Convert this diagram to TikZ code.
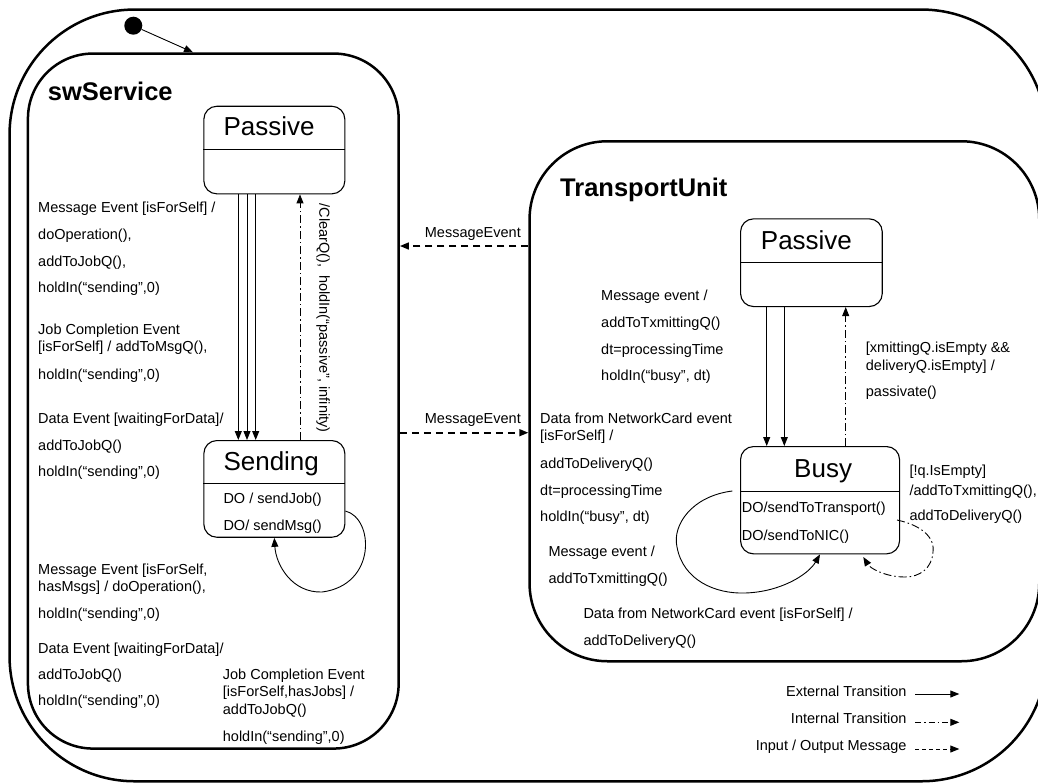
\documentclass[tikz,border=0pt]{standalone}
\usepackage{fontspec}
\setmainfont{Liberation Sans}
\usetikzlibrary{arrows.meta,calc}
\begin{document}
\begin{tikzpicture}[x=1pt,y=-1pt,
  lbl/.style={anchor=base west, inner sep=0pt, font=\fontsize{14.5}{17}\selectfont},
  lblr/.style={anchor=base east, inner sep=0pt, font=\fontsize{14.5}{17}\selectfont},
  sname/.style={anchor=base west, inner sep=0pt, font=\fontsize{26}{30}\selectfont},
  title/.style={anchor=base west, inner sep=0pt, font=\fontsize{25.5}{30}\selectfont\bfseries},
  container/.style={draw, line width=2.5pt, rounded corners=#1, inner sep=0pt, anchor=north west},
  statebox/.style={draw, line width=1.1pt, rounded corners=13pt, inner sep=0pt, anchor=north west},
  tip/.style={-{Triangle[length=9pt,width=7pt]}},
  ext/.style={tip, line width=0.9pt},
  int/.style={tip, line width=0.9pt, dash pattern=on 8pt off 3pt on 1.5pt off 3pt},
  msg/.style={tip, line width=1.6pt, dash pattern=on 7pt off 5pt},
]
\useasboundingbox (0,0) rectangle (1038,782);
\clip (0,0) rectangle (1038,782);

% ---------- containers ----------
\node[container=125pt, minimum width=1037pt, minimum height=771.7pt] (outer) at (8.3,8.3) {};
\node[container=65pt, minimum width=370.7pt, minimum height=695pt] (sw) at (26.7,52.3) {};
\node[container=78pt, minimum width=509.7pt, minimum height=520pt] (tu) at (528.3,140) {};

\node[title] (swT) at (47.7,100) {swService};
\node[title] (tuT) at (560,196.7) {TransportUnit};

% ---------- initial state ----------
\node[circle, fill, minimum size=18pt, inner sep=0pt] (init) at (133.3,25.7) {};
\coordinate (initX) at (193,0);
\draw[ext] (init) -- (sw.north -| initX);

% ---------- swService states ----------
\node[statebox, minimum width=141pt, minimum height=87.6pt] (swP) at (203.3,105.7) {};
\draw[line width=1.1pt] ($(swP.north west)+(0,43.6)$) -- ($(swP.north east)+(0,43.6)$);
\node[sname] (swPn) at (223.3,135.7) {Passive};

\node[statebox, minimum width=141pt, minimum height=96.7pt] (swS) at (203.3,440) {};
\draw[line width=1.1pt] ($(swS.north west)+(0,43.3)$) -- ($(swS.north east)+(0,43.3)$);
\node[sname] (swSn) at (223.3,470.7) {Sending};
\node[lbl] (swS1) at (223.3,503.3) {DO / sendJob()};
\node[lbl] (swS2) at (223.3,530.7) {DO/ sendMsg()};

% transitions Passive -> Sending
\coordinate (a1) at (238.3,0);
\coordinate (a2) at (247,0);
\coordinate (a3) at (255.7,0);
\coordinate (ad) at (300,0);
\draw[ext] (swP.south -| a1) -- (swS.north -| a1);
\draw[ext] (swP.south -| a2) -- (swS.north -| a2);
\draw[ext] (swP.south -| a3) -- (swS.north -| a3);
\draw[int] (swS.north -| ad) -- (swP.south -| ad);
\node[lbl, anchor=center, rotate=-90] (clr) at (323,318) {/ClearQ(),\ \ holdIn(“passive”, infinity)};

% self loop on Sending
\coordinate (sl1) at (0,511);
\coordinate (sl2) at (274.3,0);
\draw[ext] (swS.east |- sl1) .. controls (374,518) and (377,585) .. (322,592)
  .. controls (292,593) and (276,565) .. (swS.south -| sl2);

% swService labels
\node[lbl] (l1) at (38,212) {Message Event [isForSelf] /};
\node[lbl] (l2) at (38,239) {doOperation(),};
\node[lbl] (l3) at (38,266) {addToJobQ(),};
\node[lbl] (l4) at (38,292.7) {holdIn(“sending”,0)};
\node[lbl] (l5) at (38,334) {Job Completion Event};
\node[lbl] (l6) at (38,351.7) {[isForSelf] / addToMsgQ(),};
\node[lbl] (l7) at (38,379.3) {holdIn(“sending”,0)};
\node[lbl] (l8) at (38,423.3) {Data Event [waitingForData]/};
\node[lbl] (l9) at (38,450) {addToJobQ()};
\node[lbl] (l10) at (38,476) {holdIn(“sending”,0)};

\node[lbl] (m1) at (38,574) {Message Event [isForSelf,};
\node[lbl] (m2) at (38,591.7) {hasMsgs] / doOperation(),};
\node[lbl] (m3) at (38,618.3) {holdIn(“sending”,0)};
\node[lbl] (m4) at (38,653.3) {Data Event [waitingForData]/};
\node[lbl] (m5) at (38,679.3) {addToJobQ()};
\node[lbl] (m6) at (38,705.7) {holdIn(“sending”,0)};
\node[lbl] (j1) at (222.7,679.3) {Job Completion Event};
\node[lbl] (j2) at (222.7,696.7) {[isForSelf,hasJobs] /};
\node[lbl] (j3) at (222.7,714.3) {addToJobQ()};
\node[lbl] (j4) at (222.7,741) {holdIn(“sending”,0)};

% ---------- messages between components ----------
\coordinate (me1) at (0,246);
\coordinate (me2) at (0,432.7);
\draw[msg] (tu.west |- me1) -- (sw.east |- me1);
\draw[msg] (sw.east |- me2) -- (tu.west |- me2);
\node[lblr] (me1l) at (521,237.7) {MessageEvent};
\node[lblr] (me2l) at (521,423.3) {MessageEvent};

% ---------- TransportUnit states ----------
\node[statebox, minimum width=141.7pt, minimum height=87.7pt] (tuP) at (740,218.3) {};
\draw[line width=1.1pt] ($(tuP.north west)+(0,44)$) -- ($(tuP.north east)+(0,44)$);
\node[sname] (tuPn) at (760.7,249.3) {Passive};

\node[statebox, minimum width=159pt, minimum height=107.3pt] (tuB) at (740,446) {};
\draw[line width=1.1pt] ($(tuB.north west)+(0,45.7)$) -- ($(tuB.north east)+(0,45.7)$);
\node[sname] (tuBn) at (794,477.3) {Busy};
\node[lbl] (tuB1) at (741.7,512.7) {DO/sendToTransport()};
\node[lbl] (tuB2) at (741.7,540) {DO/sendToNIC()};

\coordinate (b1) at (766.7,0);
\coordinate (b2) at (784.3,0);
\coordinate (bd) at (845.7,0);
\draw[ext] (tuP.south -| b1) -- (tuB.north -| b1);
\draw[ext] (tuP.south -| b2) -- (tuB.north -| b2);
\draw[int] (tuB.north -| bd) -- (tuP.south -| bd);

% self loops on Busy
\coordinate (bl0) at (732.3,491);
\coordinate (bl1) at (820,0);
\draw[ext] (bl0) .. controls (692,496) and (672,525) .. (677,547)
  .. controls (683,580) and (715,594) .. (745,593)
  .. controls (780,592) and (808,575) .. (tuB.south -| bl1);
\coordinate (bi0) at (897,520);
\coordinate (bi1) at (863.3,557);
\draw[int] (bi0) .. controls (925,526) and (935,540) .. (933,552)
  .. controls (932,568) and (920,577) .. (905,577)
  .. controls (885,577) and (870,568) .. (bi1);

% TransportUnit labels
\node[lbl] (u1) at (601,300.7) {Message event /};
\node[lbl] (u2) at (601,327.3) {addToTxmittingQ()};
\node[lbl] (u3) at (601,354) {dt=processingTime};
\node[lbl] (u4) at (601,380) {holdIn(“busy”, dt)};

\node[lbl] (d1) at (540,423.3) {Data from NetworkCard event};
\node[lbl] (d2) at (540,440.7) {[isForSelf] /};
\node[lbl] (d3) at (540,468.3) {addToDeliveryQ()};
\node[lbl] (d4) at (540,495) {dt=processingTime};
\node[lbl] (d5) at (540,521.7) {holdIn(“busy”, dt)};

\node[lbl] (e1) at (548.3,556) {Message event /};
\node[lbl] (e2) at (548.3,583.3) {addToTxmittingQ()};
\node[lbl] (f1) at (583.3,618.3) {Data from NetworkCard event [isForSelf] /};
\node[lbl] (f2) at (583.3,645) {addToDeliveryQ()};

\node[lbl] (p1) at (865.7,352.7) {[xmittingQ.isEmpty \&\&};
\node[lbl] (p2) at (865.7,370.7) {deliveryQ.isEmpty] /};
\node[lbl] (p3) at (865.7,396.7) {passivate()};

\node[lbl] (q1) at (909.3,475) {[!q.IsEmpty]};
\node[lbl] (q2) at (909.3,495) {/addToTxmittingQ(),};
\node[lbl] (q3) at (909.3,520) {addToDeliveryQ()};

% ---------- legend ----------
\node[lblr] (lgE) at (906.7,696.7) {External Transition};
\node[lblr] (lgI) at (906.7,723.3) {Internal Transition};
\node[lblr] (lgM) at (906.7,750) {Input / Output Message};
\coordinate (lgE1) at (915,694);   \coordinate (lgE2) at (959.3,694);
\coordinate (lgI1) at (915,722.3); \coordinate (lgI2) at (959.3,722.3);
\coordinate (lgM1) at (915,749);   \coordinate (lgM2) at (959.3,749);
\draw[ext] (lgE1) -- (lgE2);
\draw[tip, line width=0.9pt, dash pattern=on 6pt off 3pt on 1.5pt off 3pt] (lgI1) -- (lgI2);
\draw[tip, line width=0.9pt, dash pattern=on 4pt off 3pt] (lgM1) -- (lgM2);
\end{tikzpicture}
\end{document}
